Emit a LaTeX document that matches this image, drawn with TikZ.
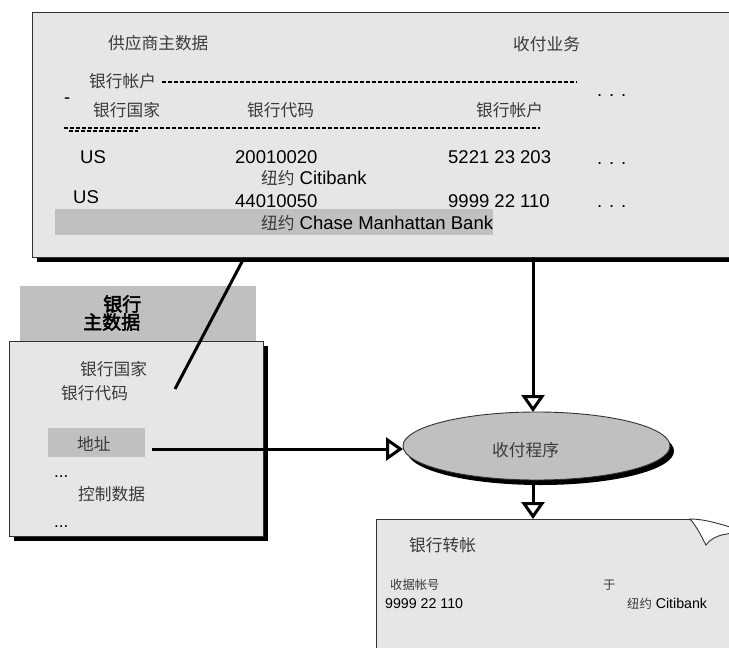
\documentclass[tikz,border=0pt]{standalone}
\usepackage{fontspec}
\setmainfont{Liberation Sans}
\newfontfamily\cjk{Noto Sans CJK SC}
\newfontfamily\cjkbf[FakeBold=2.5]{Noto Sans CJK SC}
\usetikzlibrary{arrows.meta,shapes.geometric,shadows}
\definecolor{boxfill}{HTML}{E6E6E6}
\definecolor{barfill}{HTML}{C0C0C0}
\definecolor{cjkgray}{HTML}{3A3A3A}
\definecolor{edgecol}{HTML}{333333}
\newcommand\zhpart[1]{{\cjk\fontsize{16.7}{20}\selectfont\color{cjkgray}#1}}
\newcommand\zhsmall[1]{{\cjk\fontsize{12.3}{15}\selectfont\color{cjkgray}#1}}
\begin{document}
\begin{tikzpicture}[x=1pt,y=-1pt,
  panel/.style={draw=edgecol, line width=0.9pt, fill=boxfill, rectangle, anchor=north west, inner sep=0pt, outer sep=0pt,
    drop shadow={shadow xshift=5pt, shadow yshift=-5pt, opacity=1, fill=black}},
  bar/.style={fill=barfill, rectangle, anchor=north west, inner sep=0pt, outer sep=0pt},
  procshape/.style={ellipse, draw=edgecol, line width=0.9pt, fill=barfill, inner sep=0pt, outer sep=0pt,
    drop shadow={shadow xshift=4pt, shadow yshift=-5pt, opacity=1, fill=black}},
  zh/.style={anchor=base west, inner sep=0pt, text=cjkgray, font=\cjk\fontsize{16.7}{20}\selectfont},
  zhb/.style={anchor=base west, inner sep=0pt, text=black, font=\cjkbf\fontsize{19}{20}\selectfont},
  zhs/.style={anchor=base west, inner sep=0pt, text=cjkgray, font=\cjk\fontsize{12.3}{15}\selectfont},
  la/.style={anchor=base west, inner sep=0pt, font=\fontsize{18.5}{22}\selectfont},
  lam/.style={anchor=base west, inner sep=0pt, font=\fontsize{17}{20}\selectfont},
  las/.style={anchor=base west, inner sep=0pt, font=\fontsize{14.2}{17}\selectfont},
  rule/.style={line width=1.1pt, dash pattern=on 4pt off 2pt},
  link/.style={line width=3pt},
  conn/.style={line width=3pt, -{Triangle[open, length=17pt, width=23pt, line width=3pt]}}
]
\useasboundingbox (0,0) rectangle (729,648);
\clip (0,0) rectangle (729,648);

% ---------- top panel: vendor master data ----------
\node[panel, minimum width=720pt, minimum height=245pt] (topbox) at (32,12) {};
\node[zh] (vendor) at (108,49.3) {供应商主数据};
\node[zh] (payb) at (513,50.3) {收付业务};
\node[zh] (acct) at (89,87.3) {银行帐户};
\coordinate (r1a) at (162,82);
\coordinate (r1b) at (577,82);
\draw[rule] (r1a) -- (r1b);
\node[la] (dots1) at (597,96) {. . .};
\node[la] (hy) at (64,103.5) {-};
\node[zh] (hcountry) at (93,116.3) {银行国家};
\node[zh] (hcode) at (247,116.3) {银行代码};
\node[zh] (hacct) at (476,116.3) {银行帐户};
\coordinate (r2a) at (64,128);
\coordinate (r2b) at (540,128);
\coordinate (r3a) at (69,131);
\coordinate (r3b) at (138,131);
\draw[rule] (r2a) -- (r2b);
\draw[rule] (r3a) -- (r3b);
\node[la] (us1) at (80,163.6) {US};
\node[la] (code1) at (235,163.6) {20010020};
\node[la] (acc1) at (448,163.6) {5221 23 203};
\node[la] (dots2) at (597,164) {. . .};
\node[la] (bank1) at (261,184.5) {\zhpart{纽约} Citibank};
\node[la] (us2) at (73,203.6) {US};
\node[la] (code2) at (235,207.6) {44010050};
\node[la] (acc2) at (448,207.6) {9999 22 110};
\node[la] (dots3) at (597,207) {. . .};
\node[bar, minimum width=438pt, minimum height=26pt] (hlbar) at (55,209) {};
\node[la] (bank2) at (261,229.5) {\zhpart{纽约} Chase Manhattan Bank};

% ---------- left panel: bank master data ----------
\node[bar, minimum width=236pt, minimum height=55pt] (bankhead) at (20,286) {};
\node[zhb] (bh1) at (103,311.2) {银行};
\node[zhb] (bh2) at (83,329.2) {主数据};
\node[panel, minimum width=254pt, minimum height=195pt] (bankbox) at (9,341) {};
\node[zh] (bcountry) at (80,375.3) {银行国家};
\node[zh] (bcode) at (61,399.3) {银行代码};
\node[bar, minimum width=97pt, minimum height=29pt] (addrbar) at (48,428) {};
\node[zh] (addr) at (77,450.3) {地址};
\node[lam] (bdots1) at (54,477) {...};
\node[zh] (ctrl) at (78,500.3) {控制数据};
\node[lam] (bdots2) at (54,527) {...};

% ---------- payment program ----------
\node[procshape, minimum width=267pt, minimum height=68pt] (proc) at (536.5,446) {};
\node[zh] (proclabel) at (492,456.3) {收付程序};

% ---------- bank transfer document ----------
\coordinate (docTop) at (533,519);
\fill[boxfill] (376,660) -- (376,519) -- (690,519) .. controls (698,528) and (702,538) .. (706,545)
  .. controls (712,537) and (722,533) .. (740,533) -- (740,660) -- cycle;
\draw[edgecol, line width=0.9pt] (376,660) -- (376,519) -- (690,519);
\filldraw[fill=white, draw=edgecol, line width=0.9pt] (690,519) .. controls (705,519) and (720,524) .. (740,530)
  -- (740,533) .. controls (722,533) and (712,537) .. (706,545)
  .. controls (702,538) and (698,528) .. (690,519) -- cycle;
\node[zh] (xfer) at (409,551.3) {银行转帐};
\node[zhs] (rcv) at (390,589.7) {收据帐号};
\node[las] (rcvno) at (385,608) {9999 22 110};
\node[zhs] (at) at (603,589.7) {于};
\node[las] (rcvbank) at (627,608) {\zhsmall{纽约} Citibank};

% ---------- connectors ----------
\coordinate (diagA) at (244,258);
\coordinate (diagB) at (175,389);
\draw[link] (diagA) -- (diagB);
\draw[conn] (topbox.south -| docTop) -- (docTop |- proc.north);
\coordinate (addrout) at (152,449);
\draw[conn] (addrout) -- (addrout -| proc.west);
\draw[conn] (docTop |- proc.south) ++(0,4) -- (docTop);
\end{tikzpicture}
\end{document}
